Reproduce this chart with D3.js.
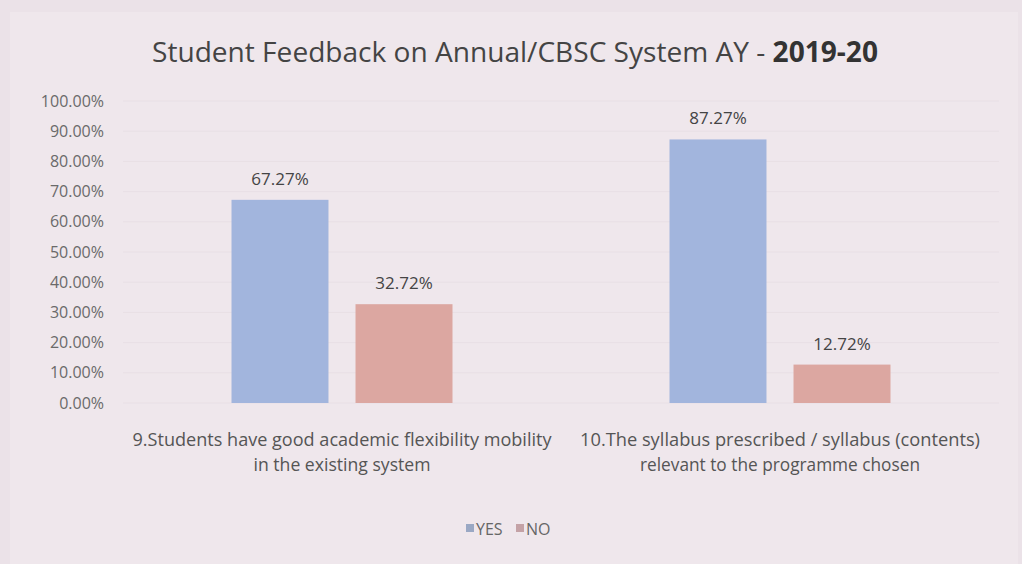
<!DOCTYPE html>
<html>
<head>
<meta charset="utf-8">
<script src="https://cdn.jsdelivr.net/npm/d3@7"></script>
<style>
  body { margin: 0; background: #ebe2e8; }
  svg { display: block; }
</style>
</head>
<body>
<svg class="chart"></svg>
<script>
var categories = [
  ["9.Students have good academic flexibility mobility", "in the existing system"],
  ["10.The syllabus prescribed / syllabus (contents)", "relevant to the programme chosen"]
];
var seriesNames = ["YES", "NO"];
var yesValues = [0.6727, 0.8727];
var noValues = [0.3272, 0.1272];
var yTicks = [0, 0.1, 0.2, 0.3, 0.4, 0.5, 0.6, 0.7, 0.8, 0.9, 1.0];
var titleParts = ["Student Feedback on Annual/CBSC System AY - ", "2019-20"];

var colors = { YES: "#a2b5dd", NO: "#dca7a1" };
var font = "'Open Sans', sans-serif";

var W = 1022, H = 564;
var svg = d3.select(".chart").attr("width", W).attr("height", H);

svg.append("rect").attr("x", 0).attr("y", 0).attr("width", W).attr("height", H).attr("fill", "#ebe2e8");
svg.append("rect").attr("x", 10).attr("y", 12).attr("width", W - 14).attr("height", H - 12).attr("fill", "#efe7ec");

var data = categories.map(function(c, i) {
  return { cat: i, label: c, values: [
    { key: "YES", value: yesValues[i] },
    { key: "NO", value: noValues[i] }
  ]};
});

var x0 = d3.scaleBand().domain(d3.range(categories.length)).range([123, 999]).padding(0);
var x1 = d3.scaleBand().domain(seriesNames).range([0, x0.bandwidth()])
  .paddingInner(0.218).paddingOuter(0.875);
var y = d3.scaleLinear().domain([0, 1]).range([403, 101]);

// faint gridlines
svg.append("g").selectAll("line").data(yTicks).enter().append("line")
  .attr("x1", 123).attr("x2", 999)
  .attr("y1", function(d) { return y(d); }).attr("y2", function(d) { return y(d); })
  .attr("stroke", "#e8dfe5").attr("stroke-width", 1);

// y axis
var yAxis = d3.axisLeft(y).tickValues(yTicks).tickSize(0).tickPadding(0)
  .tickFormat(function(d) { return d3.format(".2%")(d); });
var yG = svg.append("g").attr("transform", "translate(104,0)").call(yAxis);
yG.select(".domain").remove();
yG.selectAll("text").attr("fill", "#6a6a6a").style("font-family", font).style("font-size", "16px");

// title: two pieces, scaled so the whole line spans 152..878
var t1 = svg.append("text").attr("y", 62).attr("fill", "#444")
  .style("white-space", "pre")
  .style("font-family", font).style("font-size", "30px").text(titleParts[0]);
var t2 = svg.append("text").attr("y", 62).attr("fill", "#333").attr("font-weight", "bold")
  .style("font-family", font).style("font-size", "30px").text(titleParts[1]);
var w1 = t1.node().getComputedTextLength(), w2 = t2.node().getComputedTextLength();
var k = 726 / (w1 + w2);
var fs = 30 * Math.min(k, 1.2);
t1.style("font-size", fs + "px"); t2.style("font-size", fs + "px");
w1 = t1.node().getComputedTextLength(); w2 = t2.node().getComputedTextLength();
var tx = 515 - (w1 + w2) / 2;
t1.attr("x", tx); t2.attr("x", tx + w1);

// bars
var g = svg.selectAll(".cat").data(data).enter().append("g")
  .attr("class", "cat")
  .attr("transform", function(d) { return "translate(" + x0(d.cat) + ",0)"; });

g.selectAll("rect").data(function(d) { return d.values; }).enter().append("rect")
  .attr("x", function(d) { return x1(d.key); })
  .attr("y", function(d) { return y(d.value); })
  .attr("width", x1.bandwidth())
  .attr("height", function(d) { return y(0) - y(d.value); })
  .attr("fill", function(d) { return colors[d.key]; });

g.selectAll(".lbl").data(function(d) { return d.values; }).enter().append("text")
  .attr("class", "lbl")
  .attr("x", function(d) { return x1(d.key) + x1.bandwidth() / 2; })
  .attr("y", function(d) { return y(d.value) - 15; })
  .attr("text-anchor", "middle").attr("fill", "#444")
  .style("font-family", font).style("font-size", "17px")
  .text(function(d) { return d3.format(".2%")(d.value); });

// category labels
var lineLengths = [[419, 177], [400, 280]];
g.each(function(d, i) {
  var sel = d3.select(this);
  d.label.forEach(function(line, j) {
    sel.append("text")
      .attr("x", x0.bandwidth() / 2).attr("y", 446 + j * 25)
      .attr("text-anchor", "middle").attr("fill", "#555")
      .style("font-family", font).style("font-size", "18px")
      .attr("textLength", lineLengths[i][j]).attr("lengthAdjust", "spacingAndGlyphs")
      .text(line);
  });
});

// legend
var legendPos = [466, 516];
var leg = svg.selectAll(".leg").data(seriesNames).enter().append("g")
  .attr("class", "leg")
  .attr("transform", function(d, i) { return "translate(" + legendPos[i] + ",0)"; });
leg.append("rect").attr("x", 0).attr("y", 524).attr("width", 8).attr("height", 8)
  .attr("fill", function(d) { return d === "YES" ? "#9aa8c4" : "#c4a2a6"; });
leg.append("text").attr("x", 10).attr("y", 535).attr("fill", "#666")
  .style("font-family", font).style("font-size", "16px")
  .text(function(d) { return d; });
</script>
</body>
</html>
